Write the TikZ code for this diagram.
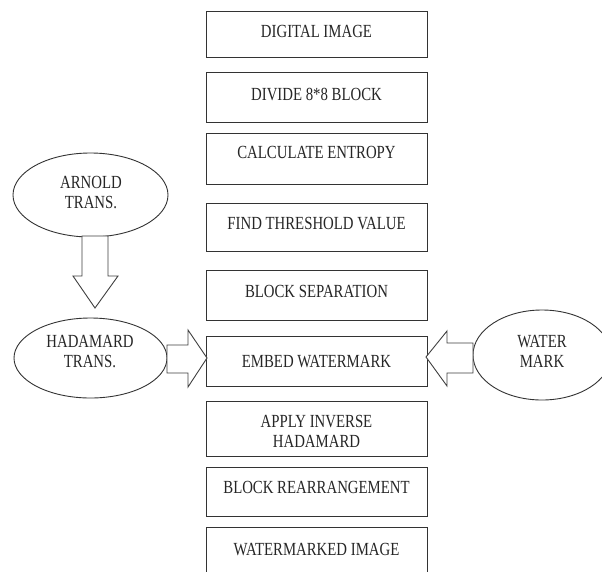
\documentclass[tikz,border=0pt]{standalone}
\usepackage{fontspec}
\setmainfont{Liberation Serif}[FakeStretch=0.8]
\usetikzlibrary{shapes.geometric,calc}
\tikzset{
  stepbox/.style={draw=black!80, line width=0.9pt, rectangle, minimum width=221pt, inner sep=0pt},
  oval/.style={draw=black!80, line width=0.9pt, ellipse, inner sep=0pt},
  lbl/.style={anchor=base, inner sep=0pt, text=black!85, font=\fontsize{18.5}{20}\selectfont},
  blockarrow/.style={draw=black!75, line width=0.9pt, fill=white, line join=miter}
}
\begin{document}
\begin{tikzpicture}[x=1pt,y=-1pt]
\clip (0,0) rectangle (602,571);
\fill[white] (0,0) rectangle (602,571);
% process boxes
\node[stepbox, minimum height=46pt] (b1) at (316.5,34) {};
\node[stepbox, minimum height=50pt] (b2) at (316.5,97) {};
\node[stepbox, minimum height=51pt] (b3) at (316.5,158.5) {};
\node[stepbox, minimum height=48pt] (b4) at (316.5,227) {};
\node[stepbox, minimum height=50pt] (b5) at (316.5,295) {};
\node[stepbox, minimum height=50pt] (b6) at (316.5,361) {};
\node[stepbox, minimum height=55pt] (b7) at (316.5,428.5) {};
\node[stepbox, minimum height=49pt] (b8) at (316.5,491.5) {};
\node[stepbox, minimum height=73pt] (b9) at (316.5,563.5) {};
\node[lbl] (t1) at (316.5,37) {DIGITAL IMAGE};
\node[lbl] (t2) at (316.5,100) {DIVIDE 8*8 BLOCK};
\node[lbl] (t3) at (316.5,158) {CALCULATE ENTROPY};
\node[lbl] (t4) at (316.5,229) {FIND THRESHOLD VALUE};
\node[lbl] (t5) at (316.5,297) {BLOCK SEPARATION};
\node[lbl] (t6) at (316.5,367) {EMBED WATERMARK};
\node[lbl] (t7a) at (316.5,427) {APPLY INVERSE};
\node[lbl] (t7b) at (316.5,447) {HADAMARD};
\node[lbl] (t8) at (316.5,493) {BLOCK REARRANGEMENT};
\node[lbl] (t9) at (316.5,555) {WATERMARKED IMAGE};
% ellipses
\node[oval, minimum width=155pt, minimum height=84pt] (arnold) at (90.5,195) {};
\node[oval, minimum width=153pt, minimum height=80pt] (hadamard) at (90.5,358) {};
\node[oval, minimum width=138pt, minimum height=90pt] (water) at (542,355) {};
\node[lbl] (ta1) at (91,188) {ARNOLD};
\node[lbl] (ta2) at (91,208) {TRANS.};
\node[lbl] (th1) at (90,347) {HADAMARD};
\node[lbl] (th2) at (90,367) {TRANS.};
\node[lbl] (tw1) at (542,347) {WATER};
\node[lbl] (tw2) at (542,367) {MARK};
% block arrows
\draw[blockarrow] (82,236) -- (108,236) -- (108,276) -- (118,276) -- (95,308)
  -- (73,276) -- (82,276) -- cycle;
\draw[blockarrow] (167,345) -- (188,345) -- (188,330) -- (207,358) -- (188,387)
  -- (188,373) -- (167,373) -- cycle;
\draw[blockarrow] (473,343) -- (447,343) -- (447,331) -- (426,357) -- (447,386)
  -- (447,373) -- (473,373) -- cycle;
\end{tikzpicture}
\end{document}
